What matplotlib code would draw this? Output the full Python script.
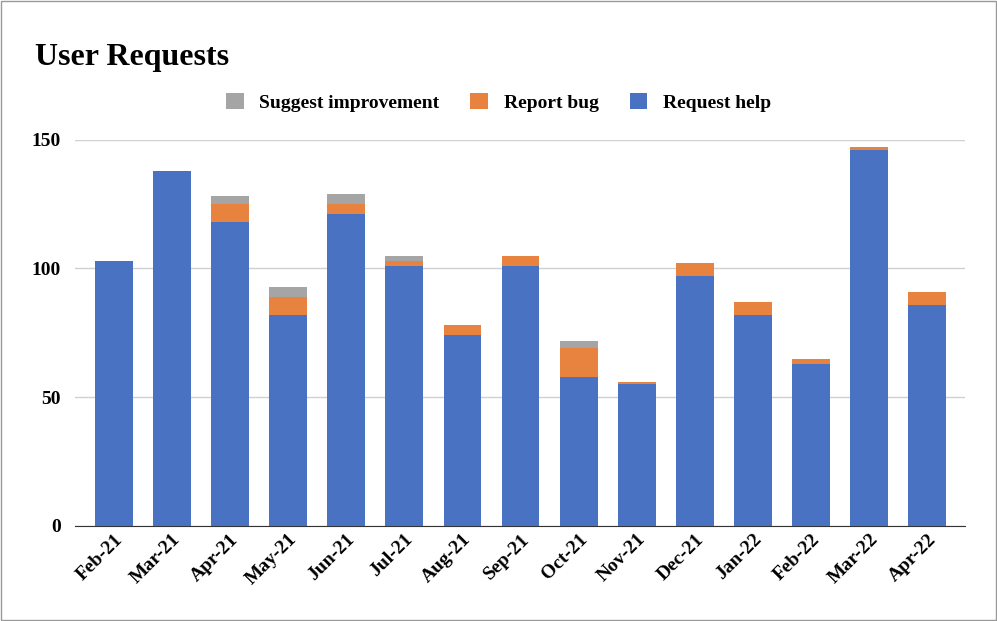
import matplotlib.pyplot as plt
import numpy as np

months = ["Feb-21", "Mar-21", "Apr-21", "May-21", "Jun-21", "Jul-21", "Aug-21", "Sep-21",
          "Oct-21", "Nov-21", "Dec-21", "Jan-22", "Feb-22", "Mar-22", "Apr-22"]
request_help = [103, 138, 118, 82, 121, 101, 74, 101, 58, 55, 97, 82, 63, 146, 86]
report_bug = [0, 0, 7, 7, 4, 2, 4, 4, 11, 1, 5, 5, 2, 1, 5]
suggest_improvement = [0, 0, 3, 4, 4, 2, 0, 0, 3, 0, 0, 0, 0, 0, 0]

plt.rcParams["font.family"] = ["Liberation Serif", "DejaVu Serif"]
plt.rcParams["font.weight"] = "bold"

fig = plt.figure(figsize=(9.97, 6.21), dpi=100)
ax = fig.add_axes([0.075, 0.153, 0.893, 0.622])

x = np.arange(len(months))
help_arr = np.array(request_help)
bug_arr = np.array(report_bug)
sug_arr = np.array(suggest_improvement)
w = 0.65
ax.bar(x, help_arr, w, color="#4A72C2", label="Request help", zorder=3)
ax.bar(x, bug_arr, w, bottom=help_arr, color="#E8823F", label="Report bug", zorder=3)
ax.bar(x, sug_arr, w, bottom=help_arr + bug_arr, color="#A5A5A5",
       label="Suggest improvement", zorder=3)

ax.set_xlim(-0.67, len(months) - 0.35)
ax.set_ylim(0, 150)
ax.set_yticks([0, 50, 100, 150])
ax.yaxis.grid(True, color="#D0D0D0", linewidth=1, zorder=0)
for s in ["top", "right", "left"]:
    ax.spines[s].set_visible(False)
ax.spines["bottom"].set_color("#333333")
ax.tick_params(axis="y", length=0, labelsize=14, pad=10)
ax.tick_params(axis="x", length=0, labelsize=14)
ax.set_xticks(x)
ax.set_xticklabels(months, rotation=45, ha="right", rotation_mode="anchor")

handles, labels = ax.get_legend_handles_labels()
fig.legend(handles[::-1], labels[::-1], loc="upper center", bbox_to_anchor=(0.5, 0.878),
           ncol=3, frameon=False, fontsize=14, handlelength=0.9, handleheight=0.9,
           columnspacing=1.6, handletextpad=0.8)

fig.text(0.035, 0.895, "User Requests", fontsize=23, fontweight="bold")
fig.add_artist(plt.Rectangle((0.001, 0.001), 0.998, 0.998, transform=fig.transFigure,
                             fill=False, edgecolor="#999999", linewidth=1))

fig.savefig("out.png", dpi=100)
